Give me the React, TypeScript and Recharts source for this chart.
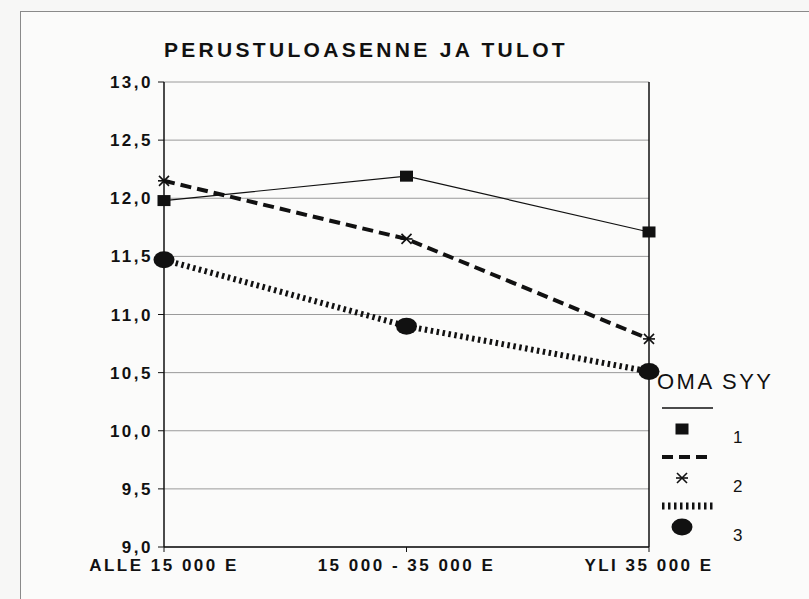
import { LineChart, Line, XAxis, YAxis, CartesianGrid, ReferenceLine, Legend } from "recharts";

const CATEGORIES = ["ALLE 15 000 E", "15 000 - 35 000 E", "YLI 35 000 E"];
const SERIES_1 = [11.98, 12.19, 11.71];
const SERIES_2 = [12.15, 11.65, 10.79];
const SERIES_3 = [11.47, 10.9, 10.51];
const SERIES_NAMES = ["1", "2", "3"];
const Y_TICKS = [9, 9.5, 10, 10.5, 11, 11.5, 12, 12.5, 13];
const TITLE = "PERUSTULOASENNE JA TULOT";
const LEGEND_TITLE = "OMA SYY";

const data = CATEGORIES.map((name, i) => ({
  name,
  s1: SERIES_1[i],
  s2: SERIES_2[i],
  s3: SERIES_3[i],
}));

const FONT = "'Liberation Sans', Arial, sans-serif";
const INK = "#111";

const Square = ({ cx, cy }: any) => (
  <rect x={cx - 6.5} y={cy - 5.5} width={13} height={11} fill={INK} />
);

const Star = ({ cx, cy }: any) => (
  <g stroke={INK} strokeWidth={1.6}>
    <line x1={cx - 6} y1={cy} x2={cx + 6} y2={cy} />
    <line x1={cx - 5} y1={cy - 5} x2={cx + 5} y2={cy + 5} />
    <line x1={cx - 5} y1={cy + 5} x2={cx + 5} y2={cy - 5} />
  </g>
);

const Blob = ({ cx, cy }: any) => (
  <ellipse cx={cx} cy={cy} rx={10.5} ry={8.5} fill={INK} />
);

const LegendBox = () => {
  const styles = [
    { dash: undefined, width: 1.5 },
    { dash: "11 6", width: 4 },
    { dash: "2.5 3.5", width: 7 },
  ];
  const markers = [Square, Star, Blob];
  return (
    <svg width={160} height={190} style={{ overflow: "visible" }}>
      <text x={7} y={27} fontSize={22} fontFamily={FONT} letterSpacing={2.5} fill={INK}>
        {LEGEND_TITLE}
      </text>
      {SERIES_NAMES.map((n, i) => {
        const y = 46 + i * 49;
        const M = markers[i];
        return (
          <g key={n}>
            <line x1={12} x2={63} y1={y} y2={y} stroke={INK} strokeWidth={styles[i].width} strokeDasharray={styles[i].dash} />
            <M cx={32} cy={y + 21} />
            <text x={83} y={y + 35} fontSize={17} fontFamily={FONT} fill={INK}>{n}</text>
          </g>
        );
      })}
    </svg>
  );
};

export default function App() {
  return (
    <div style={{ position: "absolute", left: 0, top: 0, width: 809, height: 599, background: "#f7f7f6", overflow: "hidden" }}>
      <div style={{ position: "absolute", left: 20, top: 11, width: 820, height: 620, border: "1px solid #8a8a8a", background: "#fbfbfa" }} />
      <div style={{ position: "absolute", left: 164, top: 39, fontFamily: FONT, fontSize: 21, lineHeight: "21px", fontWeight: "bold", letterSpacing: 3.3, color: INK, whiteSpace: "nowrap" }}>
        {TITLE}
      </div>
      <div style={{ position: "absolute", left: 0, top: 0 }}>
        <LineChart width={809} height={599} data={data} margin={{ top: 82, right: 160, bottom: 12, left: 104 }}>
          <CartesianGrid vertical={false} stroke="#9a9a9a" strokeWidth={1} />
          <XAxis
            dataKey="name"
            padding={{ left: 0, right: 0 }}
            height={40}
            axisLine={{ stroke: INK, strokeWidth: 1.5 }}
            tickLine={{ stroke: INK }}
            tickSize={5}
            tickMargin={7}
            interval={0}
            tick={{ fill: INK, fontSize: 17, fontFamily: FONT, fontWeight: "bold", letterSpacing: 2.5 }}
          />
          <YAxis
            domain={[9, 13]}
            ticks={Y_TICKS}
            width={60}
            axisLine={{ stroke: INK, strokeWidth: 1.5 }}
            tickLine={{ stroke: INK }}
            tickSize={6}
            tickMargin={5}
            tickFormatter={(v: number) => v.toFixed(1).replace(".", ",")}
            tick={{ fill: INK, fontSize: 17, fontFamily: FONT, fontWeight: "bold", letterSpacing: 2.5 }}
          />
          <ReferenceLine x={CATEGORIES[CATEGORIES.length - 1]} stroke={INK} strokeWidth={1.5} />
          <Line dataKey="s3" name={SERIES_NAMES[2]} stroke={INK} strokeWidth={6} strokeDasharray="2.5 3.5" dot={<Blob />} isAnimationActive={false} />
          <Line dataKey="s2" name={SERIES_NAMES[1]} stroke={INK} strokeWidth={4} strokeDasharray="11 6" dot={<Star />} isAnimationActive={false} />
          <Line dataKey="s1" name={SERIES_NAMES[0]} stroke={INK} strokeWidth={1.2} dot={<Square />} isAnimationActive={false} />
          <Legend
            layout="vertical"
            align="center"
            verticalAlign="middle"
            wrapperStyle={{ left: 650, top: 362, width: 160, height: 190 }}
            content={<LegendBox />}
          />
        </LineChart>
      </div>
    </div>
  );
}
